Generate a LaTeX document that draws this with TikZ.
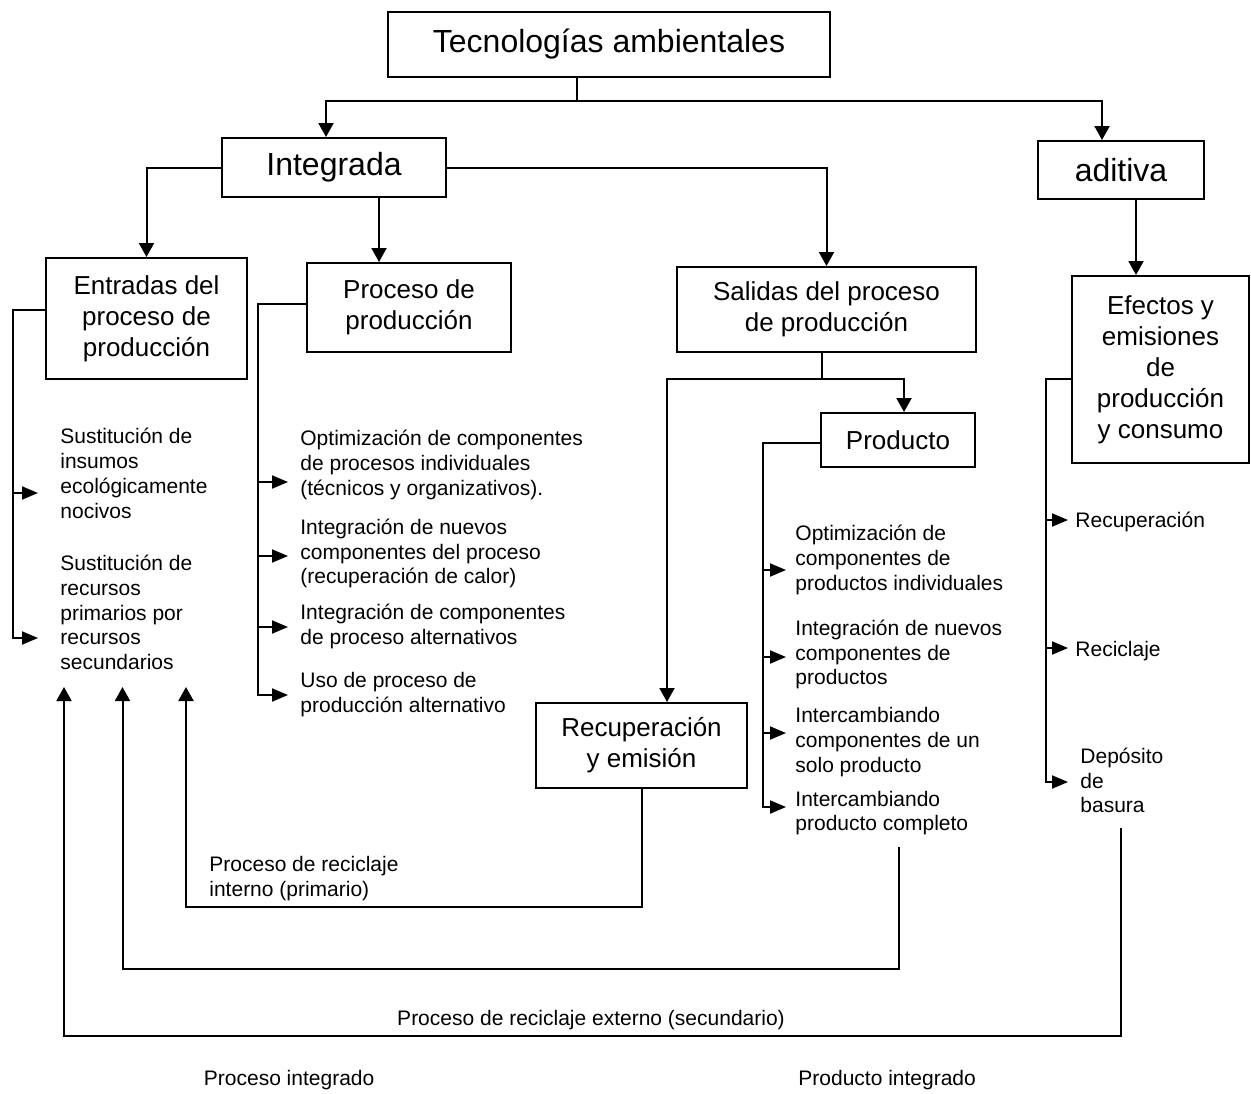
\documentclass[tikz,border=0pt]{standalone}
\usepackage{fontspec}
\setmainfont{Liberation Sans}
\usetikzlibrary{arrows.meta}

\begin{document}
\begin{tikzpicture}[x=0.5pt, y=-0.5pt]
	\tikzstyle{box} = [rectangle, draw=black, line width=1pt, inner sep=0pt, 
	align=center, font=\fontsize{13}{15.5}\selectfont]
	\tikzstyle{head} = [box, font=\fontsize{16}{19}\selectfont]
	\tikzstyle{txt} = [anchor=west, align=left, inner sep=0pt, 
	font=\fontsize{10.5}{12.4}\selectfont]
	\tikzstyle{conn} = [line width=1pt]
	\tikzstyle{arrow} = [conn, -{Triangle[length=7pt, width=7.5pt]}]
	\tikzstyle{sideArrow} = [conn, -{Triangle[length=8pt, width=6.5pt]}]
	\useasboundingbox (0,0) rectangle (1251,1093);
	% boxes
	\node (tec) [head, minimum width=221pt, minimum height=32.5pt] at (609,44.5) {Tecnologías ambientales};
	\node (integ) [head, minimum width=112pt, minimum height=29.5pt] at (334,167.5) {Integrada};
	\node (aditiva) [head, minimum width=83pt, minimum height=29pt] at (1121,170) {aditiva};
	\node (entradas) [box, minimum width=100.5pt, minimum height=60.5pt] at (146.5,318.5) {Entradas del\\proceso de\\producción};
	\node (proceso) [box, minimum width=102pt, minimum height=44.5pt] at (409,307.5) {Proceso de\\producción};
	\node (salidas) [box, minimum width=149.5pt, minimum height=42.5pt] at (826.5,309.5) {Salidas del proceso\\de producción};
	\node (efectos) [box, minimum width=88.5pt, minimum height=93.5pt] at (1160.5,369.5) {Efectos y\\emisiones\\de\\producción\\y consumo};
	\node (producto) [box, minimum width=77pt, minimum height=27pt] at (898,440) {Producto};
	\node (recup) [box, minimum width=105.5pt, minimum height=42.5pt] at (641.5,745.5) {Recuperación\\y emisión};
	% texts
	\node (sust1) [txt] at (60,473.5) {Sustitución de\\insumos\\ecológicamente\\nocivos};
	\node (sust2) [txt] at (60,612.5) {Sustitución de\\recursos\\primarios por\\recursos\\secundarios};
	\node (proc1) [txt] at (300,465) {Optimización de componentes\\de procesos individuales\\(técnicos y organizativos).};
	\node (proc2) [txt] at (300,553.5) {Integración de nuevos\\componentes del proceso\\(recuperación de calor)};
	\node (proc3) [txt] at (300,626.5) {Integración de componentes\\de proceso alternativos};
	\node (proc4) [txt] at (300,694.5) {Uso de proceso de\\producción alternativo};
	\node (prod1) [txt] at (795,560) {Optimización de\\componentes de\\productos individuales};
	\node (prod2) [txt] at (795,654.5) {Integración de nuevos\\componentes de\\productos};
	\node (prod3) [txt] at (795,742) {Intercambiando\\componentes de un\\solo producto};
	\node (prod4) [txt] at (795,813) {Intercambiando\\producto completo};
	\node (efec1) [txt] at (1075,522) {Recuperación};
	\node (efec2) [txt] at (1075,651) {Reciclaje};
	\node (efec3) [txt] at (1080,780.5) {Depósito\\de\\basura};
	\node (interno) [txt] at (209,878.5) {Proceso de reciclaje\\interno (primario)};
	\node (externo) [txt, anchor=center] at (591,1020) {Proceso de reciclaje externo (secundario)};
	\node (procInt) [txt] at (203.5,1080) {Proceso integrado};
	\node (prodInt) [txt] at (798,1080) {Producto integrado};
	% top tree
	\coordinate (topSplit) at (577,101);
	\coordinate (topL) at (326,101);
	\coordinate (topR) at (1102,101);
	\draw [conn] (tec.south -| topSplit) -- (topSplit);
	\draw [arrow] (topSplit) -| (integ.north -| topL);
	\draw [arrow] (topSplit) -| (aditiva.north -| topR);
	\coordinate (intDown) at (379,0);
	\coordinate (adiDown) at (1136,0);
	\draw [arrow] (integ.west) -| (entradas.north);
	\draw [arrow] (integ.south -| intDown) -- (proceso.north -| intDown);
	\draw [arrow] (integ.east) -| (salidas.north);
	\draw [arrow] (aditiva.south -| adiDown) -- (efectos.north -| adiDown);
	\coordinate (salSplit) at (822,379);
	\coordinate (salL) at (667,379);
	\coordinate (salR) at (904,379);
	\draw [conn] (salidas.south -| salSplit) -- (salSplit);
	\draw [arrow] (salSplit) -| (producto.north -| salR);
	\draw [arrow] (salSplit) -| (recup.north -| salL);
	% side brackets
	\coordinate (inTop) at (13,310);
	\coordinate (in1) at (38,493);
	\coordinate (in2) at (38,638);
	\draw [sideArrow] (entradas.west |- inTop) -- (inTop) |- (in2);
	\draw [sideArrow] (inTop |- in1) -- (in1);
	\coordinate (prTop) at (258,304);
	\coordinate (pr1) at (288,482);
	\coordinate (pr2) at (288,556);
	\coordinate (pr3) at (288,627);
	\coordinate (pr4) at (288,695);
	\draw [sideArrow] (proceso.west |- prTop) -- (prTop) |- (pr4);
	\draw [sideArrow] (prTop |- pr1) -- (pr1);
	\draw [sideArrow] (prTop |- pr2) -- (pr2);
	\draw [sideArrow] (prTop |- pr3) -- (pr3);
	\coordinate (pdTop) at (763,443);
	\coordinate (pd1) at (786,570);
	\coordinate (pd2) at (786,657);
	\coordinate (pd3) at (786,733);
	\coordinate (pd4) at (786,807);
	\draw [sideArrow] (producto.west |- pdTop) -- (pdTop) |- (pd4);
	\draw [sideArrow] (pdTop |- pd1) -- (pd1);
	\draw [sideArrow] (pdTop |- pd2) -- (pd2);
	\draw [sideArrow] (pdTop |- pd3) -- (pd3);
	\coordinate (efTop) at (1046,379);
	\coordinate (ef1) at (1068,520);
	\coordinate (ef2) at (1068,648);
	\coordinate (ef3) at (1068,782);
	\draw [sideArrow] (efectos.west |- efTop) -- (efTop) |- (ef3);
	\draw [sideArrow] (efTop |- ef1) -- (ef1);
	\draw [sideArrow] (efTop |- ef2) -- (ef2);
	% recycling loops
	\coordinate (up1) at (64,687);
	\coordinate (up2) at (122.5,687);
	\coordinate (up3) at (186,687);
	\coordinate (intCorner) at (186,907);
	\coordinate (midStart) at (899,847);
	\coordinate (midCorner) at (122.5,969);
	\coordinate (extStart) at (1121,828);
	\coordinate (extCorner) at (64,1036);
	\draw [arrow] (recup.south) |- (intCorner) -- (up3);
	\draw [arrow] (midStart) |- (midCorner) -- (up2);
	\draw [arrow] (extStart) |- (extCorner) -- (up1);
\end{tikzpicture}
\end{document}
